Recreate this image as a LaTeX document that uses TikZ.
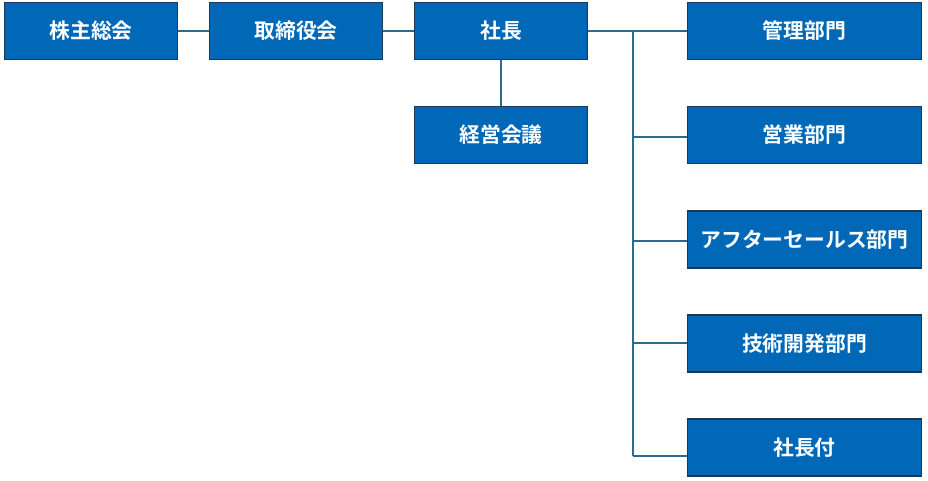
\documentclass[tikz,border=0pt]{standalone}
\usepackage{fontspec}
\newfontfamily\jp{Noto Sans CJK JP}[BoldFont={Noto Sans CJK JP Bold}]
\definecolor{boxfill}{HTML}{0068B7}
\definecolor{boxedge}{HTML}{1C3954}
\definecolor{linecol}{HTML}{2E6A8E}
\tikzset{
  orgbox/.style={draw=boxedge, line width=1.5pt, fill=boxfill, text=white,
    minimum height=57pt, inner sep=0pt, font=\jp\bfseries\fontsize{20.8}{24}\selectfont},
  leftbox/.style={orgbox, minimum width=173pt},
  rightbox/.style={orgbox, minimum width=234pt},
  conn/.style={draw=linecol, line width=1.5pt}
}
\begin{document}
\begin{tikzpicture}[x=1pt,y=-1pt]
\useasboundingbox (0,0) rectangle (928,481);
\node[leftbox] (kabu) at (91,31) {株主総会};
\node[leftbox] (tori) at (296,31) {取締役会};
\node[leftbox] (shacho) at (501,31) {社長};
\node[leftbox] (keiei) at (501,135) {経営会議};
\node[rightbox] (kanri) at (804.5,31) {管理部門};
\node[rightbox] (eigyo) at (804.5,135) {営業部門};
\node[rightbox] (after) at (804.5,239.5) {アフターセールス部門};
\node[rightbox] (gijutsu) at (804.5,343.5) {技術開発部門};
\node[rightbox] (fuzoku) at (804.5,447.5) {社長付};
\coordinate (top) at (633,31);
\coordinate (b2) at (633,137);
\coordinate (b3) at (633,241);
\coordinate (b4) at (633,343);
\coordinate (b5) at (633,456);
\draw[conn] (kabu.east) -- (tori.west);
\draw[conn] (tori.east) -- (shacho.west);
\draw[conn] (shacho.south) -- (keiei.north);
\draw[conn] (shacho.east) -- (kanri.west);
\draw[conn] (top) -- (b5);
\draw[conn] (b2) -- (b2 -| eigyo.west);
\draw[conn] (b3) -- (b3 -| after.west);
\draw[conn] (b4) -- (b4 -| gijutsu.west);
\draw[conn] (b5) -- (b5 -| fuzoku.west);
\end{tikzpicture}
\end{document}
